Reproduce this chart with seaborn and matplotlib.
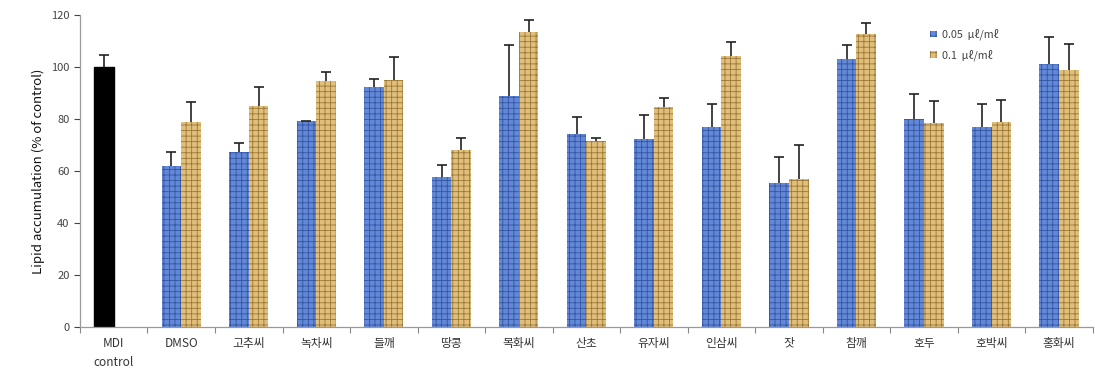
import numpy as np
import pandas as pd
import matplotlib
matplotlib.use("Agg")
import matplotlib.pyplot as plt
import seaborn as sns

categories = ['MDI\ncontrol', 'DMSO', '고추씨', '녹차씨', '들깨', '땅콩', '목화씨', '산초',
              '유자씨', '인삼씨', '잣', '참깨', '호두', '호박씨', '홍화씨']
dose_labels = ['0.05  μℓ/mℓ', '0.1  μℓ/mℓ']
val_005 = [100, 61.8, 67.3, 79.4, 92.2, 57.7, 88.8, 74.2, 72.3, 77.0, 55.4, 103.3, 80.0, 77.0, 101.3]
err_005 = [4.6, 5.5, 3.6, 0.0, 3.3, 4.6, 19.7, 6.6, 9.2, 8.8, 10.0, 5.2, 9.6, 9.0, 10.2]
val_01 = [np.nan, 78.9, 85.0, 94.6, 95.2, 68.0, 113.5, 71.5, 84.6, 104.2, 56.9, 112.7, 78.5, 79.0, 99.0]
err_01 = [np.nan, 7.6, 7.3, 3.6, 8.6, 4.7, 4.5, 1.2, 3.4, 5.4, 13.1, 4.3, 8.5, 8.3, 10.0]

rows = []
for c, v, e in zip(categories, val_005, err_005):
    rows.append(dict(cat=c, dose=dose_labels[0], value=v, err=e))
for c, v, e in zip(categories, val_01, err_01):
    if not np.isnan(v):
        rows.append(dict(cat=c, dose=dose_labels[1], value=v, err=e))
df = pd.DataFrame(rows)

sns.set_theme(style="white")
plt.rcParams['font.family'] = ['Noto Sans CJK KR', 'DejaVu Sans']
plt.rcParams['hatch.linewidth'] = 0.6

fig = plt.figure(figsize=(10.95, 3.70), dpi=100)
ax = fig.add_axes([0.073, 0.116, 0.925, 0.843])

blue_face, blue_hatch = '#6388d8', '#34559f'
tan_face, tan_hatch = '#e0bf7c', '#9c7634'

sns.barplot(data=df, x='cat', y='value', hue='dose', order=categories,
            hue_order=dose_labels, palette=[blue_face, tan_face],
            width=0.58, errorbar=None, ax=ax, saturation=1)

err_lookup = {(r.cat, r.dose): r.err for r in df.itertuples()}
hatch_cols = [blue_hatch, tan_hatch]
for ci, cont in enumerate(ax.containers[:2]):
    dose = dose_labels[ci]
    for bar in cont:
        h = bar.get_height()
        if h is None or np.isnan(h):
            continue
        xc = bar.get_x() + bar.get_width() / 2
        idx = int(round(xc))
        cat = categories[idx]
        if idx == 0:
            bar.set_facecolor('black')
            bar.set_edgecolor('black')
            bar.set_hatch(None)
        else:
            bar.set_edgecolor(hatch_cols[ci])
            bar.set_hatch('+++')
            bar.set_linewidth(0)
        e = err_lookup[(cat, dose)]
        eb = ax.errorbar([xc], [h], yerr=[[0], [e]], fmt='none', ecolor='#222222',
                         elinewidth=1.2, capsize=3.5, capthick=1.2, zorder=3)
        caps = eb[1]
        if len(caps) >= 2:
            caps[0].set_visible(False)

ax.set_ylim(0, 120)
ax.set_xlim(-0.5, len(categories) - 0.5)
ax.set_yticks(range(0, 121, 20))
ax.set_xlabel('')
ax.set_ylabel('Lipid accumulation (% of control)', fontsize=9.5, color='#111111')
ax.tick_params(axis='y', labelsize=8, colors='#444444', length=4, width=0.8, left=True, direction='out')
ax.tick_params(axis='x', labelsize=8.5, colors='#333333', length=0, pad=7)
ax.set_xticks(np.arange(-0.5, len(categories), 1.0), minor=True)
ax.tick_params(axis='x', which='minor', length=4, width=0.8, color='#888888', bottom=True, direction='out')
for lab in ax.get_xticklabels():
    lab.set_linespacing(1.6)
    lab.set_verticalalignment('top')
for s in ['top', 'right']:
    ax.spines[s].set_visible(False)
for s in ['left', 'bottom']:
    ax.spines[s].set_color('#999999')
    ax.spines[s].set_linewidth(0.9)

handles, labels = ax.get_legend_handles_labels()
for hnd, hc in zip(handles, hatch_cols):
    hnd.set_edgecolor(hc)
    hnd.set_hatch('+++')
    hnd.set_linewidth(0)
leg = ax.legend(handles, labels, loc='upper left', bbox_to_anchor=(0.835, 0.97),
                frameon=False, fontsize=7.8, handlelength=0.6, handleheight=0.6,
                handletextpad=0.5, labelspacing=0.8, borderaxespad=0)
for t in leg.get_texts():
    t.set_color('#444444')

fig.savefig('out.png', dpi=100)
